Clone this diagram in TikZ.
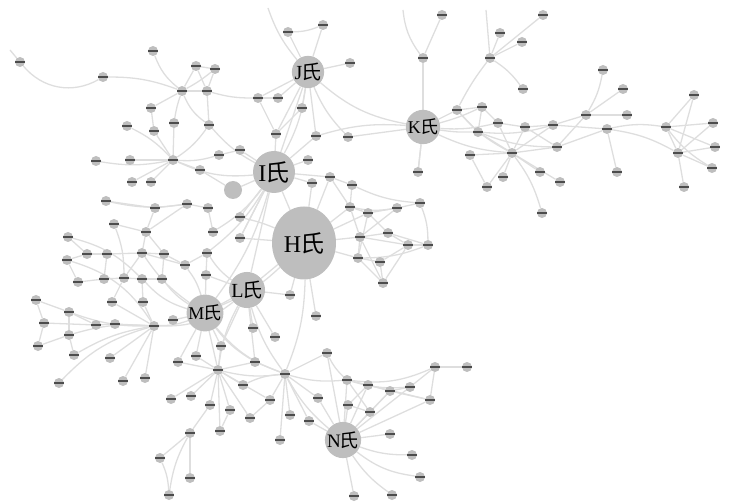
\documentclass[tikz,border=0pt]{standalone}
\usepackage{fontspec}
\setmainfont{Liberation Serif}
\newfontfamily\cjk{Noto Sans CJK SC}
\usetikzlibrary{shapes.geometric,backgrounds}
\definecolor{ndgray}{RGB}{190,190,190}
\definecolor{edgray}{RGB}{222,222,222}
\newcommand\shi[2]{\fontsize{#2}{#2}\selectfont #1\hspace{-0.04em}{\cjk 氏}}
\tikzset{
  sm/.style={circle,fill=ndgray,minimum size=10pt,inner sep=0pt,
    label={[inner sep=0pt,text=black!70]center:\rule{10pt}{1.4pt}}},
  big/.style={circle,fill=ndgray,inner sep=0pt,text=black},
  edge/.style={draw=edgray,line width=1.3pt},
}
\begin{document}
\begin{tikzpicture}[x=1pt,y=-1pt]
\useasboundingbox (0,0) rectangle (733,502);
% main hubs
\node[big,minimum size=32pt] (J) at (308,72) {\shi{J}{20}};
\node[big,minimum size=30pt] (K) at (423,127) {\shi{K}{18}};
\node[big,minimum size=42pt] (I) at (274,172) {\shi{I}{24}};
\node[big,ellipse,minimum width=64pt,minimum height=73pt] (H) at (304,243) {\shi{H}{24}};
\node[big,minimum size=34pt] (L) at (247,290) {\shi{L}{20}};
\node[big,minimum size=36pt] (M) at (205,313) {\shi{M}{18}};
\node[big,minimum size=34pt] (N) at (343,440) {\shi{N}{19}};
\node[big,minimum size=18pt] (md) at (233,190) {};
% small nodes
\foreach \nm/\x/\y in {
 tl1/20/62, tl2/103/77, tl3/153/51, jc/182/91, tl4/196/66, tl5/215/69, tl6/207/91,
 tl7/151/108, tl8/174/123, tl9/127/126, tl10/154/131, tl11/209/125, lh/173/160,
 tl12/96/161, tl13/130/160, tl14/132/182, tl15/151/182, tl16/200/170, tl17/219/155, tl18/240/150,
 l1/106/201, l2/155/208, l3/187/204, l4/208/208, l5/114/224, l6/146/232, l7/213/232,
 l8/240/217, l9/240/238, l10/68/237, l11/87/254, l12/107/254, l13/67/260, l14/142/253,
 l15/164/254, l16/185/265, l17/207/253, l18/206/275, l19/78/282, l20/104/279, l21/124/278,
 l22/142/279, l23/162/279, l24/36/300, l25/112/302, l26/143/302, l27/69/312, l28/44/323,
 l29/96/325, l30/115/324, vb/154/326, l31/173/320, l32/69/335, l33/38/346, l34/74/355,
 l35/110/358, l36/196/356, l37/178/362, l38/221/346, tb/218/370, l39/59/383, l40/123/381, l41/145/378,
 b1/255/362, b2/275/337, b3/253/328, b4/290/295, b5/316/316, b6/327/353, an/285/374,
 b7/243/385, b8/171/399, b9/191/396, b10/210/405, b11/230/410, b12/270/400, b13/250/418,
 b14/290/415, b15/309/421, b16/220/431, bh/190/433, b17/280/440, b18/318/398,
 b19/160/458, b20/190/478, b21/169/495,
 n1/347/380, n2/368/385, n3/390/391, n4/410/387, n5/435/367, n6/467/367, n7/430/400,
 n8/348/405, n9/370/412, n10/390/434, n11/412/455, n12/420/477, n13/354/496, n14/392/495,
 c1/276/134, c2/316/136, c3/348/137, c5/308/160, c6/330/177, c7/312/183, c8/352/185,
 c9/350/207, c10/368/213, c11/397/208, c12/420/203, c13/360/237, c14/388/233, c15/408/245,
 c16/428/245, c17/358/258, c18/380/262, c19/383/283, c20/418/172,
 j1/288/32, j2/323/25, j3/350/63, j4/258/98, j5/278/98, j6/302/108,
 k1/423/58, k2/442/15, k3/500/33, k4/522/42, kh/490/58, k5/543/15, k6/523/89,
 k7/457/110, k8/482/107, k9/498/123, k10/525/127, k11/553/125, k12/478/132, k13/470/155,
 k14/512/153, k15/557/147, k16/503/177, k17/540/172, k18/560/182, k19/487/187, k20/542/213,
 r1/603/70, r2/623/89, rh/586/115, r3/627/115, r4/607/129, r5/617/172, r6/666/127,
 r7/694/95, r8/713/123, r9/715/147, rh2/678/153, r10/712/168, r11/684/187}
 \node[sm] (\nm) at (\x,\y) {};
\coordinate (top1) at (268,8);
\coordinate (top2) at (403,10);
\coordinate (top3) at (486,10);
\coordinate (lft1) at (10,50);
\begin{scope}[on background layer]
\foreach \a/\b/\c in {
 lft1/tl1/0, tl1/tl2/-40, tl2/jc/10, tl3/jc/-15, tl4/jc/0, tl5/jc/5, tl4/tl6/0, tl5/tl6/0, tl4/tl5/0,
 tl6/jc/0, tl7/jc/0, tl8/jc/5, tl11/jc/15, tl11/tl6/0, tl7/tl10/0, tl8/lh/0, tl9/lh/10,
 tl10/lh/0, tl13/lh/0, tl12/lh/-10, tl14/lh/0, tl15/lh/0, tl16/lh/0, lh/tl17/-10, tl11/lh/10,
 lh/I/-15, tl6/j4/-8, tl17/tl18/0, tl18/I/0, md/I/0, tl16/md/0, tl11/I/-10,
 l1/l2/0, l2/l6/0, l2/l3/0, l3/l4/0, l3/l6/0, l4/l7/0, l7/I/-10, l8/I/0, l9/I/0, l9/H/0, l8/H/5,
 l5/l6/0, l6/l14/0, l6/l15/0, l14/l15/0, l10/l11/0, l11/l12/0, l12/l14/0, l13/l11/0, l13/l19/0,
 l14/l16/0, l15/l16/0, l16/l17/0, l17/l18/0, l16/M/10, l18/M/0, l18/L/0, l17/L/-10, l17/I/-10,
 l19/l20/0, l20/l21/0, l21/l22/0, l22/l23/0, l23/M/-10, l22/M/-15, l21/l14/0, l20/l12/0, l23/l15/0,
 l24/l27/0, l25/vb/0, l26/vb/0, l26/l22/0, l25/l21/0, l27/vb/-10, l27/l29/0, l28/l29/0, l29/l30/0,
 l30/vb/0, l32/l27/0, l32/vb/10, l33/l32/0, l34/l32/0, l34/vb/10, l35/vb/0, l40/vb/0, l41/vb/0,
 vb/M/-10, l31/M/0, l36/M/0, l37/M/0, l38/M/0, tb/M/0, l39/vb/15, l24/l28/0, l28/l33/0,
 l13/vb/20, l10/l22/15, l1/l3/-10, l5/l21/10, vb/L/-20, l14/M/-10,
 tb/l36/0, tb/l37/0, tb/l38/0, tb/b1/0, tb/b7/0, tb/b8/0, tb/b9/0, tb/b10/0, tb/b11/0, tb/an/-10,
 tb/L/10, tb/b12/0, l38/L/0, b2/L/0, b3/L/0, b4/L/0, b4/H/0, b5/H/0, b1/L/0, b6/an/0, an/b18/0,
 an/b14/0, an/b15/0, an/b17/0, an/b12/0, an/b7/-10, an/N/-10, an/n1/-10, b6/N/0, b10/bh/0,
 bh/b19/0, bh/b20/0, bh/b21/-10, b19/b21/10, b13/b12/0, b13/tb/0, b11/b16/0, b16/tb/0, M/an/-15,
 L/an/-10, M/b1/-10, H/an/10, b1/an/0,
 N/n1/0, N/n2/0, N/n3/0, N/n4/0, N/n7/0, N/n8/0, N/n9/0, N/n10/0, N/n11/-10, N/n12/-15, N/n13/0,
 N/n14/-10, N/b15/0, N/b18/0, n1/n2/0, n2/n3/0, n3/n4/0, n4/n5/0, n5/n6/0, n5/n7/0, n1/n4/-10,
 n2/n7/0, n8/n9/0, n9/n3/0, n1/n9/0, n3/n7/0, n8/n2/0, b6/n1/-10, n1/n5/-15,
 I/c1/0, I/c5/0, I/c7/0, I/c6/0, I/H/0, J/I/0, J/I/10, J/c1/0, J/c2/0, c2/K/10, c3/K/0,
 I/c2/0, H/c6/0, H/c7/0, H/c9/0, H/c13/0, H/c17/0, H/L/0, H/M/10, I/L/0, I/M/10, L/M/0, I/l9/0,
 c6/c8/0, c6/c9/0, c8/c9/0, c9/c10/0, c9/c13/0, c10/c11/0, c10/c14/0, c11/c12/0, c11/c13/0,
 c13/c14/0, c13/c17/0, c14/c15/0, c14/c16/0, c15/c16/0, c17/c18/0, c18/c19/0, c19/c13/0,
 c17/c19/0, c10/c17/0, c13/c15/0, c18/c15/0, c20/K/0, c12/c16/10, c9/c11/-10, c17/c16/-10,
 c19/c15/0, c8/c12/-10, H/c10/0,
 J/j1/0, J/j2/0, J/j3/0, J/j4/0, J/j5/0, J/j6/0, j4/j5/0, j1/j2/-10, top1/J/-10, J/K/-15,
 j4/c1/0, j6/c1/0, J/c3/-10,
 K/k1/0, k1/k2/0, top2/k1/-15, K/c20/0, K/k7/0, K/k8/-5, K/k12/-5, K/k9/-8, K/k14/-10,
 kh/k3/0, kh/k4/0, kh/k5/0, kh/k6/10, kh/k7/-5, top3/kh/0, k7/k8/0, k8/k9/0, k7/k12/0,
 k8/k12/0, k9/k10/0, k10/k11/0, k12/k14/0, k13/k14/0, k9/k14/0, k10/k14/0, k11/k14/0,
 k14/k16/0, k14/k17/0, k14/k18/0, k14/k19/0, k13/k19/0, k15/k14/0, k11/rh/0, k15/rh/0,
 k15/k12/10, k10/k15/0, k20/k14/-10, k7/k14/-10, k12/k11/-10,
 rh/r1/-10, rh/r2/0, rh/r3/0, r4/k11/0, r4/k15/0, r4/r5/0, r4/r6/10, r4/rh2/10, rh2/r6/0,
 rh2/r7/0, rh2/r8/0, rh2/r9/0, rh2/r10/0, rh2/r11/0, r6/r7/0, r6/r8/0, r6/r9/0, r6/r10/-10}
 \draw[edge] (\a) to[bend left=\c] (\b);
\end{scope}
\end{tikzpicture}
\end{document}
